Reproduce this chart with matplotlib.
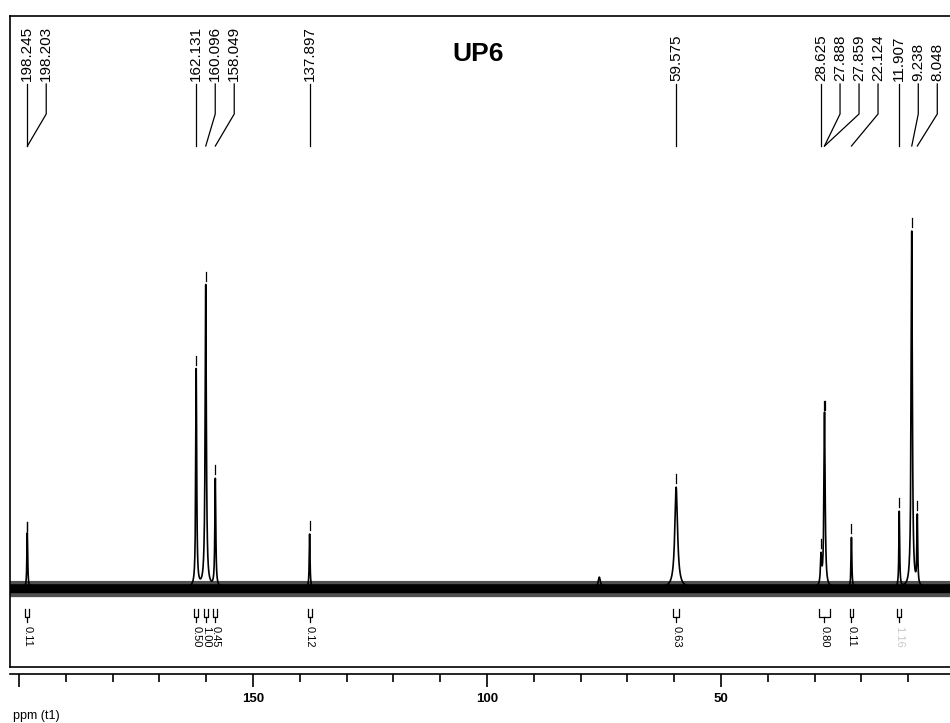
import matplotlib
matplotlib.use("Agg")
import matplotlib.pyplot as plt
from matplotlib.ticker import FixedLocator, MultipleLocator
import numpy as np

plt.rcParams['font.family'] = ['Liberation Sans', 'DejaVu Sans']

# picked peaks (ppm) and their heights (tallest ~100)
peak_ppm = [198.245, 198.203, 162.131, 160.096, 158.049, 137.897, 59.575,
            28.625, 27.888, 27.859, 22.124, 11.907, 9.238, 8.048]
peak_height = [8.0, 8.0, 60.5, 84.0, 30.0, 15.0, 28.0,
               8.0, 24.5, 24.5, 14.0, 21.0, 99.0, 19.0]
peak_width = [0.10, 0.10, 0.12, 0.15, 0.12, 0.10, 0.35,
              0.15, 0.15, 0.15, 0.10, 0.10, 0.15, 0.10]

# small unlabelled solvent bump
extra_ppm = [76.0]
extra_height = [3.0]

# integrals under the trace
integral_ppm = [198.22, 162.131, 160.096, 158.049, 137.897, 59.575, 27.9, 22.124, 11.907]
integral_half = [0.4, 0.4, 0.4, 0.4, 0.4, 0.6, 1.1, 0.4, 0.4]
integral_label = ['0.11', '0.50', '1.00', '0.45', '0.12', '0.63', '0.80', '0.11', '1.16']

major_ticks = [200, 150, 100, 50]
major_labels = ['', '150', '100', '50']

# ---- scan geometry (pixels of a 950x723 page) ----
PX_PER_PPM = 4.68
X200 = 19
BASE_PX = 588
PX_PER_UNIT = 3.6


def ppm_at(px):
    return 200 - (px - X200) / PX_PER_PPM


def val_at(py):
    return (BASE_PX - py) / PX_PER_UNIT


fig = plt.figure(figsize=(9.5, 7.23), dpi=100)
ax = fig.add_axes([10 / 950, (723 - 667) / 723, 940 / 950, 651 / 723])
ax.set_xlim(ppm_at(10), ppm_at(950))
ax.set_ylim(val_at(667), val_at(16))
ax.set_xticks([])
ax.set_yticks([])
ax.spines['right'].set_visible(False)
for s in ['top', 'left', 'bottom']:
    ax.spines[s].set_linewidth(1.2)

# spectrum as sum of lorentzians
x = np.linspace(0, 202, 40401)
y = np.zeros_like(x)
for p, h, w in zip(peak_ppm + extra_ppm, peak_height + extra_height,
                   peak_width + [0.3]):
    y += h * w ** 2 / ((x - p) ** 2 + w ** 2)

# noisy baseline band
ax.fill_between(x, -2.4, 2.1, color='#505050', lw=0)
ax.fill_between(x, -1.3, 1.2, color='black', lw=0)
ax.plot(x, y, color='black', lw=1.2)

# little tick marks above each peak top
for p in peak_ppm:
    top = np.interp(p, x, y)
    ax.plot([p, p], [top + 4 / PX_PER_UNIT, top + 13 / PX_PER_UNIT],
            color='black', lw=0.9)

# peak labels spread to the right so they do not collide
spacing = 19 / PX_PER_PPM
label_pos = []
for p in peak_ppm:
    pos = p
    if label_pos and label_pos[-1] - pos < spacing:
        pos = label_pos[-1] - spacing
    label_pos.append(pos)

for p, lp in zip(peak_ppm, label_pos):
    ax.text(lp, val_at(81), f"{p:.3f}", rotation=90, ha='center', va='bottom',
            fontsize=11)
    ax.plot([lp, lp, p], [val_at(84), val_at(114), val_at(146)],
            color='black', lw=0.9)

# integral marks and values
for p, hw, lab in zip(integral_ppm, integral_half, integral_label):
    ax.plot([p - hw, p - hw, p + hw, p + hw], [val_at(609), val_at(617), val_at(617), val_at(609)],
            color='black', lw=0.9)
    ax.plot([p, p], [val_at(617), val_at(622)], color='black', lw=0.9)
    col = '#c8c8c8' if lab == '1.16' else 'black'
    ax.text(p, val_at(626), lab, rotation=-90, ha='center', va='top',
            fontsize=8, color=col)

# ppm scale underneath
ax2 = fig.add_axes([10 / 950, (723 - 674) / 723, 940 / 950, 0.0001])
ax2.set_xlim(ppm_at(10), ppm_at(950))
for s in ['top', 'left', 'right']:
    ax2.spines[s].set_visible(False)
ax2.spines['bottom'].set_linewidth(1.2)
ax2.set_yticks([])
ax2.xaxis.set_major_locator(FixedLocator(major_ticks))
ax2.set_xticklabels(major_labels, fontsize=9.5, fontweight='bold')
ax2.xaxis.set_minor_locator(MultipleLocator(10))
ax2.tick_params(axis='x', which='major', direction='out', length=9.4, width=1.2, pad=4)
ax2.tick_params(axis='x', which='minor', direction='out', length=5.8, width=1.2)

fig.text(13 / 950, 1 - 716 / 723, 'ppm (t1)', ha='left', va='center', fontsize=9)
fig.text(478 / 950, 1 - 54 / 723, 'UP6', ha='center', va='center',
         fontsize=19, fontweight='bold')

fig.savefig('out.png', dpi=100)
